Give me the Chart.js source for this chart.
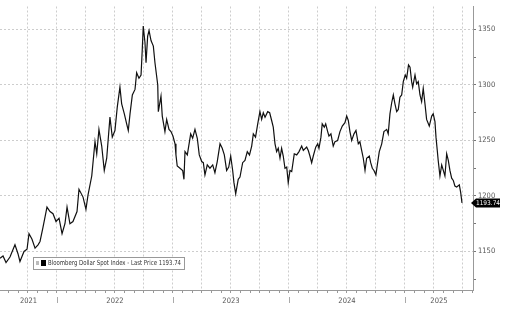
<!DOCTYPE html>
<html>
<head>
<meta charset="utf-8">
<script src="https://cdn.jsdelivr.net/npm/chart.js@4"></script>
<style>
  body { margin: 0; background: #fff; }
  #wrap { width: 506px; height: 310px; }
</style>
</head>
<body>
<div id="wrap"><canvas id="graphDollar" width="506" height="310"></canvas></div>
<script>
// donnees (annee decimale, niveau de l'indice)
const dates = [
  2021.509, 2021.535, 2021.561, 2021.595, 2021.638, 2021.664, 2021.681, 2021.716, 2021.742, 2021.759,
  2021.785, 2021.811, 2021.837, 2021.854, 2021.880, 2021.897, 2021.914, 2021.940, 2021.966, 2021.992,
  2022.018, 2022.044, 2022.069, 2022.087, 2022.112, 2022.138, 2022.173, 2022.190, 2022.225, 2022.250,
  2022.268, 2022.300, 2022.328, 2022.343, 2022.362, 2022.386, 2022.408, 2022.429, 2022.457, 2022.477,
  2022.500, 2022.520, 2022.543, 2022.558, 2022.581, 2022.601, 2022.615, 2022.630, 2022.650, 2022.673,
  2022.687, 2022.707, 2022.725, 2022.736, 2022.744, 2022.759, 2022.768, 2022.782, 2022.794, 2022.811,
  2022.831, 2022.845, 2022.869, 2022.874, 2022.897, 2022.908, 2022.931, 2022.946, 2022.966, 2022.983,
  2023.000, 2023.018, 2023.026, 2023.037, 2023.061, 2023.084, 2023.095, 2023.104, 2023.124, 2023.153,
  2023.170, 2023.190, 2023.210, 2023.227, 2023.248, 2023.262, 2023.276, 2023.296, 2023.319, 2023.343,
  2023.362, 2023.382, 2023.406, 2023.425, 2023.443, 2023.463, 2023.481, 2023.498, 2023.515, 2023.526,
  2023.541, 2023.563, 2023.578, 2023.601, 2023.621, 2023.641, 2023.660, 2023.679, 2023.693, 2023.712,
  2023.731, 2023.750, 2023.765, 2023.779, 2023.794, 2023.817, 2023.834, 2023.851, 2023.865, 2023.880,
  2023.894, 2023.908, 2023.923, 2023.937, 2023.951, 2023.966, 2023.981, 2023.994, 2024.009, 2024.024,
  2024.046, 2024.067, 2024.087, 2024.110, 2024.124, 2024.153, 2024.167, 2024.181, 2024.196, 2024.210,
  2024.231, 2024.248, 2024.259, 2024.276, 2024.287, 2024.305, 2024.317, 2024.334, 2024.345, 2024.362,
  2024.382, 2024.397, 2024.420, 2024.440, 2024.460, 2024.483, 2024.498, 2024.512, 2024.526, 2024.541,
  2024.561, 2024.578, 2024.598, 2024.612, 2024.627, 2024.641, 2024.656, 2024.670, 2024.693, 2024.705,
  2024.719, 2024.733, 2024.750, 2024.765, 2024.779, 2024.800, 2024.819, 2024.843, 2024.856, 2024.871,
  2024.886, 2024.900, 2024.914, 2024.929, 2024.943, 2024.957, 2024.972, 2024.986, 2025.003, 2025.015,
  2025.031, 2025.044, 2025.058, 2025.067, 2025.087, 2025.101, 2025.115, 2025.130, 2025.144, 2025.158,
  2025.173, 2025.187, 2025.210, 2025.231, 2025.244, 2025.259, 2025.268, 2025.279, 2025.287, 2025.302,
  2025.317, 2025.331, 2025.345, 2025.360, 2025.374, 2025.388, 2025.403, 2025.417, 2025.431, 2025.446,
  2025.457, 2025.469, 2025.481, 2025.492
];
const prices = [
  1144, 1146, 1140, 1145, 1156, 1148, 1141, 1150, 1152, 1166,
  1161, 1153, 1156, 1159, 1172, 1181, 1190, 1186, 1184, 1177,
  1180, 1166, 1175, 1190, 1175, 1177, 1186, 1206, 1199, 1188,
  1201, 1218, 1249, 1238, 1260, 1245, 1223, 1234, 1271, 1253,
  1259, 1280, 1298, 1283, 1274, 1265, 1259, 1274, 1291, 1296,
  1311, 1306, 1309, 1333, 1353, 1338, 1320, 1344, 1349, 1340,
  1335, 1320, 1300, 1276, 1290, 1272, 1258, 1269, 1260, 1258,
  1254, 1247, 1237, 1227, 1225, 1223, 1215, 1240, 1237, 1256,
  1252, 1260, 1252, 1237, 1231, 1230, 1219, 1228, 1225, 1228,
  1221, 1231, 1247, 1243, 1237, 1223, 1226, 1236, 1223, 1212,
  1202, 1215, 1217, 1230, 1232, 1240, 1237, 1245, 1256, 1253,
  1265, 1276, 1269, 1275, 1271, 1276, 1275, 1268, 1262, 1247,
  1240, 1243, 1234, 1243, 1236, 1225, 1226, 1212, 1223, 1222,
  1238, 1237, 1240, 1245, 1241, 1244, 1241, 1236, 1230, 1236,
  1244, 1247, 1243, 1253, 1265, 1262, 1265, 1258, 1254, 1256,
  1245, 1249, 1250, 1258, 1263, 1266, 1272, 1268, 1258, 1250,
  1256, 1259, 1247, 1249, 1241, 1234, 1223, 1234, 1236, 1230,
  1225, 1223, 1219, 1230, 1240, 1247, 1258, 1260, 1256, 1274,
  1284, 1291, 1283, 1276, 1278, 1289, 1291, 1303, 1309, 1306,
  1318, 1316, 1303, 1298, 1309, 1301, 1303, 1291, 1285, 1297,
  1283, 1269, 1263, 1272, 1274, 1267, 1253, 1241, 1232, 1218,
  1228, 1223, 1218, 1238, 1232, 1223, 1216, 1214, 1209, 1208,
  1209, 1210, 1203, 1193.74
];
const yearLabels = ['2021', '2022', '2023', '2024', '2025'];
const yTicks = [1150, 1200, 1250, 1300, 1350];
const seriesName = 'Bloomberg Dollar Spot Index - Last Price';

const X_MIN = 2021.509, X_MAX = 2025.587;
const police = "'Liberation Sans Narrow', 'DejaVu Sans Condensed', sans-serif";
const lastPrice = prices[prices.length - 1];

Chart.defaults.font.family = police;
Chart.defaults.color = '#555';

// legende, etiquette du dernier prix et traits des annees
const decor = {
  id: 'decor',
  afterDraw(chart) {
    const { ctx, chartArea, scales } = chart;
    const x = scales.x, y = scales.y;
    ctx.save();

    // separateurs d'annee sous l'axe
    ctx.strokeStyle = '#aaa';
    ctx.lineWidth = 1;
    for (let yr = 2022; yr <= 2025; yr++) {
      const px = Math.round(x.getPixelForValue(yr)) + 0.5;
      ctx.beginPath();
      ctx.moveTo(px, chartArea.bottom + 7);
      ctx.lineTo(px, chartArea.bottom + 13);
      ctx.stroke();
    }

    // etiquette noire du dernier prix
    const py = y.getPixelForValue(lastPrice);
    const bx = chartArea.right + 1;
    ctx.fillStyle = '#000';
    ctx.beginPath();
    ctx.moveTo(bx - 3, py);
    ctx.lineTo(bx + 2, py - 4.5);
    ctx.lineTo(bx + 26, py - 4.5);
    ctx.lineTo(bx + 26, py + 4.5);
    ctx.lineTo(bx + 2, py + 4.5);
    ctx.closePath();
    ctx.fill();
    ctx.fillStyle = '#fff';
    ctx.font = '6.5px ' + police;
    ctx.textAlign = 'center';
    ctx.textBaseline = 'middle';
    ctx.fillText(lastPrice.toFixed(2), bx + 14, py + 0.5);

    // legende
    const lx = chartArea.left + 33, ly = chartArea.bottom - 33;
    const txt = seriesName + ' ' + lastPrice.toFixed(2);
    ctx.fillStyle = '#fff';
    ctx.fillRect(lx, ly, 151, 12);
    ctx.strokeStyle = '#999';
    ctx.strokeRect(lx + 0.5, ly + 0.5, 151, 12);
    ctx.fillStyle = '#bbb';
    ctx.fillRect(lx + 3, ly + 4, 3, 4);
    ctx.fillStyle = '#000';
    ctx.fillRect(lx + 8, ly + 3, 5, 6);
    ctx.fillStyle = '#333';
    ctx.textAlign = 'left';
    // texte resserre horizontalement pour tenir dans le cadre
    ctx.font = '7px ' + police;
    const w = ctx.measureText(txt).width;
    const sx = Math.min(1, 133 / w);
    ctx.translate(lx + 15, ly + 6.5);
    ctx.scale(sx, 1);
    ctx.fillText(txt, 0, 0);
    ctx.restore();
  }
};

new Chart(document.getElementById('graphDollar'), {
  type: 'line',
  data: {
    datasets: [{
      label: seriesName,
      data: dates.map((d, i) => ({ x: d, y: prices[i] })),
      borderColor: '#111',
      borderWidth: 1.2,
      pointRadius: 0,
      tension: 0
    }]
  },
  options: {
    responsive: false,
    animation: false,
    layout: { padding: 0 },
    plugins: { legend: { display: false }, tooltip: { enabled: false } },
    scales: {
      x: {
        type: 'linear',
        min: X_MIN,
        max: X_MAX,
        afterBuildTicks: (scale) => {
          const t = [];
          // un trait par mois, grille pointillee chaque trimestre
          for (let yr = 2021; yr <= 2025; yr++) {
            for (let m = 0; m < 12; m++) {
              const v = yr + m / 12;
              if (v > X_MIN && v < X_MAX) t.push({ value: v, kind: m % 3 === 0 ? 'q' : 'm' });
            }
          }
          // annees centrees sur la partie visible
          yearLabels.forEach((lab) => {
            const yr = +lab;
            const v = (Math.max(yr, X_MIN) + Math.min(yr + 1, X_MAX)) / 2;
            t.push({ value: v, kind: 'y', txt: lab });
          });
          t.sort((a, b) => a.value - b.value);
          scale.ticks = t;
        },
        afterFit: (scale) => { scale.height = 20; },
        ticks: {
          autoSkip: false,
          maxRotation: 0,
          padding: 4,
          font: { size: 7.5 },
          color: '#555',
          callback: function (value, index, ticks) {
            return ticks[index].kind === 'y' ? ticks[index].txt : '';
          }
        },
        grid: {
          color: (c) => (c.tick && c.tick.kind === 'q' ? '#cdcdcd' : 'rgba(0,0,0,0)'),
          tickColor: (c) => (c.tick && c.tick.kind !== 'y' ? '#999' : 'rgba(0,0,0,0)'),
          tickLength: 3,
          lineWidth: 1
        },
        border: { color: '#999', width: 1, dash: [2, 2] }
      },
      y: {
        position: 'right',
        min: 1115.3,
        max: 1370.7,
        afterBuildTicks: (scale) => {
          const t = [];
          for (let v = 1125; v <= 1350; v += 25) t.push({ value: v, major: yTicks.includes(v) });
          scale.ticks = t;
        },
        afterFit: (scale) => { scale.width = 33; },
        ticks: {
          padding: 2,
          font: { size: 7.5 },
          color: '#555',
          callback: (value) => (yTicks.includes(value) ? String(value) : '')
        },
        grid: {
          color: (c) => (c.tick && yTicks.includes(c.tick.value) ? '#cdcdcd' : 'rgba(0,0,0,0)'),
          tickColor: '#777',
          tickLength: 3,
          lineWidth: 1
        },
        border: { color: '#999', width: 1, dash: [2, 2] }
      }
    }
  },
  plugins: [decor]
});
</script>
</body>
</html>
